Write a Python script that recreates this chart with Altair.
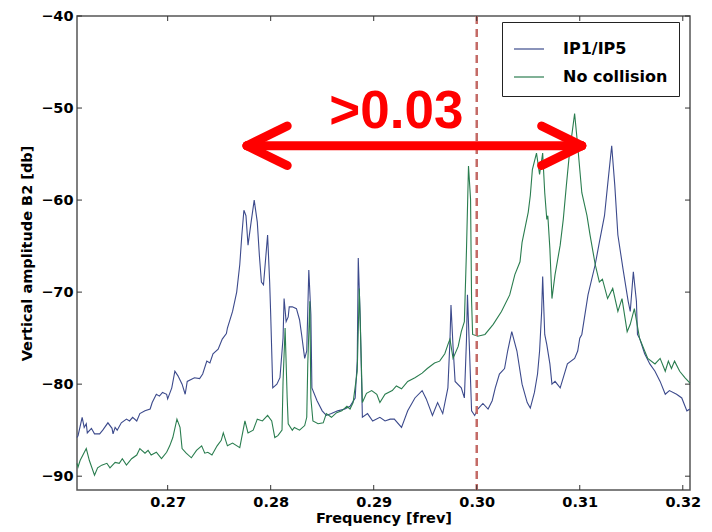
import altair as alt
import pandas as pd

# ---- data ----
ip_x = [0.2612,0.2613,0.2617,0.2619,0.2621,0.2622,0.2626,0.2629,0.2634,0.2637,
        0.2642,0.2646,0.2647,0.2649,0.2651,0.2655,0.2660,0.2663,0.2666,0.2670,
        0.2673,0.2678,0.2683,0.2685,0.2689,0.2692,0.2695,0.2699,0.2700,0.2704,
        0.2707,0.2710,0.2714,0.2717,0.2719,0.2726,0.2731,0.2734,0.2738,0.2741,
        0.2744,0.2749,0.2753,0.2757,0.2758,0.2763,0.2767,0.2770,0.2772,0.2774,
        0.2776,0.2778,0.2781,0.2784,0.2787,0.2789,0.2791,0.2793,0.2797,0.2799,
        0.2800,0.2802,0.2806,0.2809,0.2812,0.2813,0.2815,0.2817,0.2818,0.2821,
        0.2825,0.2828,0.2830,0.2833,0.2835,0.2837,0.2839,0.2840,0.2845,0.2850,
        0.2854,0.2859,0.2865,0.2872,0.2877,0.2882,0.2884,0.2885,0.2887,0.2889,
        0.2894,0.2899,0.2906,0.2911,0.2916,0.2920,0.2927,0.2933,0.2940,0.2947,
        0.2951,0.2957,0.2962,0.2967,0.2972,0.2974,0.2975,0.2977,0.2979,0.2985,
        0.2988,0.2990,0.2991,0.2993,0.2995,0.2998,0.3001,0.3006,0.3011,0.3015,
        0.3018,0.3022,0.3027,0.3030,0.3034,0.3039,0.3044,0.3049,0.3052,0.3056,
        0.3059,0.3061,0.3063,0.3064,0.3066,0.3068,0.3071,0.3073,0.3076,0.3081,
        0.3084,0.3088,0.3095,0.3098,0.3100,0.3102,0.3108,0.3115,0.3119,0.3124,
        0.3127,0.3131,0.3134,0.3137,0.3142,0.3147,0.3149,0.3152,0.3155,0.3156,
        0.3158,0.3163,0.3168,0.3173,0.3178,0.3183,0.3187,0.3194,0.3199,0.3204,
        0.3207]
ip_y = [-85.8,-85.6,-83.6,-84.7,-84.3,-85.3,-84.8,-85.4,-85.4,-85.0,
        -84.2,-84.8,-85.4,-84.7,-85.0,-84.2,-83.8,-84.0,-83.6,-84.0,
        -83.2,-82.9,-82.7,-82.0,-81.1,-81.3,-80.9,-81.1,-81.6,-80.4,
        -78.6,-79.1,-80.0,-81.1,-79.7,-79.3,-79.4,-78.9,-77.5,-77.7,
        -76.7,-76.2,-75.1,-74.5,-73.9,-72.1,-70.0,-67.0,-63.8,-61.1,
        -61.7,-64.9,-62.4,-60.0,-62.4,-66.0,-68.9,-69.2,-63.8,-68.9,
        -72.4,-80.4,-80.0,-79.3,-75.0,-70.7,-73.2,-72.7,-71.6,-71.6,
        -71.8,-73.0,-74.6,-77.2,-76.4,-67.6,-72.4,-80.4,-81.8,-82.9,
        -83.4,-83.2,-82.9,-82.7,-82.4,-81.5,-77.5,-66.3,-73.2,-83.6,
        -83.2,-84.0,-83.6,-84.0,-83.8,-83.8,-84.7,-82.9,-81.5,-80.7,
        -81.6,-83.4,-82.0,-83.2,-80.4,-75.3,-71.4,-75.9,-79.7,-80.4,
        -81.5,-75.3,-70.3,-76.4,-82.9,-83.4,-82.7,-82.1,-82.7,-81.8,
        -80.4,-78.9,-78.3,-76.4,-74.3,-76.4,-80.0,-82.0,-82.6,-80.9,
        -78.9,-76.4,-72.1,-68.3,-74.6,-75.7,-77.8,-80.0,-79.7,-80.4,
        -79.3,-77.8,-77.2,-76.4,-75.0,-74.6,-70.3,-67.0,-64.6,-61.7,
        -58.4,-54.1,-58.4,-63.8,-67.5,-71.0,-72.1,-67.8,-71.0,-74.6,
        -75.0,-76.7,-77.8,-78.6,-79.7,-81.1,-80.7,-81.1,-81.5,-82.9,
        -82.7]

nc_x = [0.2612,0.2613,0.2615,0.2621,0.2624,0.2629,0.2632,0.2636,0.2641,0.2644,
        0.2649,0.2653,0.2656,0.2660,0.2665,0.2670,0.2673,0.2678,0.2681,0.2684,
        0.2689,0.2694,0.2699,0.2702,0.2705,0.2709,0.2712,0.2714,0.2718,0.2723,
        0.2728,0.2733,0.2736,0.2739,0.2743,0.2748,0.2752,0.2754,0.2758,0.2763,
        0.2770,0.2775,0.2778,0.2783,0.2787,0.2792,0.2797,0.2801,0.2804,0.2807,
        0.2811,0.2812,0.2814,0.2816,0.2817,0.2821,0.2823,0.2828,0.2833,0.2835,
        0.2836,0.2838,0.2839,0.2841,0.2846,0.2851,0.2854,0.2859,0.2864,0.2869,
        0.2874,0.2877,0.2880,0.2884,0.2886,0.2888,0.2889,0.2893,0.2898,0.2903,
        0.2906,0.2911,0.2918,0.2922,0.2927,0.2933,0.2940,0.2947,0.2952,0.2959,
        0.2964,0.2969,0.2972,0.2974,0.2977,0.2982,0.2985,0.2988,0.2990,0.2992,
        0.2994,0.2995,0.2996,0.3001,0.3008,0.3016,0.3024,0.3032,0.3037,0.3042,
        0.3044,0.3050,0.3052,0.3054,0.3058,0.3061,0.3064,0.3066,0.3068,0.3069,
        0.3071,0.3073,0.3076,0.3081,0.3084,0.3087,0.3090,0.3095,0.3098,0.3102,
        0.3107,0.3110,0.3115,0.3119,0.3122,0.3127,0.3132,0.3137,0.3141,0.3146,
        0.3149,0.3153,0.3158,0.3163,0.3166,0.3173,0.3178,0.3183,0.3186,0.3189,
        0.3192,0.3197,0.3202,0.3207]
nc_y = [-88.6,-89.0,-88.3,-87.0,-88.3,-89.9,-89.1,-88.8,-88.6,-89.1,
        -88.5,-88.6,-88.1,-88.8,-88.1,-87.7,-87.0,-87.5,-87.2,-87.7,
        -87.4,-88.1,-87.4,-86.7,-85.8,-83.8,-84.7,-87.0,-87.5,-88.0,
        -87.2,-86.7,-87.5,-87.4,-87.7,-86.7,-86.1,-85.3,-86.7,-86.4,
        -86.9,-84.0,-85.3,-85.0,-83.8,-84.0,-83.4,-84.0,-85.8,-85.6,
        -85.0,-79.7,-73.9,-81.5,-84.3,-85.0,-84.7,-85.0,-84.5,-83.6,
        -77.8,-71.0,-81.5,-84.0,-84.3,-84.2,-83.2,-83.6,-83.1,-82.9,
        -82.4,-82.7,-82.0,-78.6,-69.6,-77.8,-82.0,-81.0,-80.7,-81.1,
        -82.0,-81.1,-80.7,-80.2,-80.5,-79.7,-79.3,-78.8,-78.3,-77.7,
        -77.5,-76.7,-75.7,-75.1,-77.2,-75.9,-74.3,-73.2,-65.6,-56.3,
        -59.9,-71.0,-74.6,-74.8,-74.6,-73.5,-72.1,-70.3,-68.1,-66.7,
        -64.6,-61.3,-59.5,-56.7,-54.9,-57.2,-54.9,-59.2,-62.1,-61.7,
        -65.3,-70.7,-68.1,-64.9,-62.1,-58.4,-54.9,-50.6,-54.1,-59.2,
        -61.7,-63.8,-67.0,-68.9,-68.6,-70.7,-69.6,-72.1,-70.7,-74.3,
        -73.5,-71.8,-75.0,-76.4,-77.2,-77.8,-77.2,-78.6,-77.5,-78.3,
        -77.5,-78.6,-79.3,-79.9]

series_names = ["IP1/IP5", "No collision"]
x_ticks = [0.27, 0.28, 0.29, 0.30, 0.31, 0.32]
y_ticks = [-90, -80, -70, -60, -50, -40]
x_domain = [0.2612, 0.3207]
y_domain = [-91.5, -40]

# annotation values
marker_x = [0.30]
arrow_left, arrow_right, arrow_y = 0.2777, 0.3102, -54.1
head_len, head_half = 0.0039, 2.15
label_text = ">0.03"
label_x, label_y = 0.2922, -52.2

# ---- build tables ----
df = pd.concat([
    pd.DataFrame({"x": ip_x, "y": ip_y, "s": series_names[0]}),
    pd.DataFrame({"x": nc_x, "y": nc_y, "s": series_names[1]}),
], ignore_index=True)

arrow_df = pd.DataFrame({
    "x":  [arrow_left, arrow_left, arrow_left, arrow_right, arrow_right],
    "y":  [arrow_y] * 5,
    "x2": [arrow_right, arrow_left + head_len, arrow_left + head_len,
           arrow_right - head_len, arrow_right - head_len],
    "y2": [arrow_y, arrow_y + head_half, arrow_y - head_half,
           arrow_y + head_half, arrow_y - head_half],
})

W, H = 613, 474
xs = alt.Scale(domain=x_domain, nice=False, zero=False)
ys = alt.Scale(domain=y_domain, nice=False, zero=False)
x_axis = alt.Axis(values=x_ticks, format=".2f", title="Frequency [frev]")
y_axis = alt.Axis(values=y_ticks, format="d", title="Vertical amplitude B2 [db]")
X = lambda: alt.X("x:Q", scale=xs, axis=x_axis)
Y = lambda: alt.Y("y:Q", scale=ys, axis=y_axis)

lines = alt.Chart(df).mark_line(strokeWidth=1.1).encode(
    x=X(), y=Y(),
    color=alt.Color("s:N", scale=alt.Scale(domain=series_names,
                                           range=["#3c4a8c", "#2a7d4f"]),
                    legend=alt.Legend(title=None, orient="none", legendX=425, legendY=6,
                                      strokeColor="#222", fillColor="white", padding=11,
                                      symbolType="stroke", symbolSize=900,
                                      symbolStrokeWidth=1.2, labelFontSize=16,
                                      labelFont="DejaVu Sans", labelFontWeight="bold",
                                      labelColor="black", rowPadding=4, labelOffset=18,
                                      cornerRadius=0)),
)

vline = alt.Chart(pd.DataFrame({"x": marker_x})).mark_rule(
    color="#c46a66", strokeWidth=2.5, strokeDash=[8, 5]
).encode(x=X())

xt = pd.DataFrame({"x": x_ticks})
yt = pd.DataFrame({"y": y_ticks})
tick_style = dict(color="#333", strokeWidth=1)
xb = alt.Chart(xt).mark_rule(**tick_style).encode(
    x=X(), y=alt.value(H), y2=alt.value(H - 5))
xtop = alt.Chart(xt).mark_rule(**tick_style).encode(
    x=X(), y=alt.value(0), y2=alt.value(5))
yl = alt.Chart(yt).mark_rule(**tick_style).encode(
    y=Y(), x=alt.value(0), x2=alt.value(5))
yr = alt.Chart(yt).mark_rule(**tick_style).encode(
    y=Y(), x=alt.value(W - 5), x2=alt.value(W))

arrow = alt.Chart(arrow_df).mark_rule(
    color="#ff0000", strokeWidth=9, strokeCap="round"
).encode(x=X(), y=Y(), x2="x2:Q", y2="y2:Q")

label = alt.Chart(pd.DataFrame({"x": [label_x], "y": [label_y], "t": [label_text]})).mark_text(
    font="Liberation Sans", fontSize=53, fontWeight="bold", color="#ff0000",
    align="center", baseline="alphabetic"
).encode(x=X(), y=Y(), text="t:N")

chart = alt.layer(lines, vline, xb, xtop, yl, yr, arrow, label).properties(
    width=W, height=H,
    padding={"left": 69, "top": 8, "right": 14, "bottom": 42},
    autosize=alt.AutoSizeParams(type="none"),
    background="white",
).configure_view(
    stroke="#555", strokeWidth=1.5
).configure_axis(
    grid=False, domain=False, ticks=False,
    labelFont="DejaVu Sans", labelFontSize=14.5, labelFontWeight="bold", labelColor="black",
    titleFont="DejaVu Sans", titleFontSize=14.5, titleFontWeight="bold", titleColor="black",
).configure_axisX(
    labelPadding=5, titlePadding=3
).configure_axisY(
    labelPadding=4, titlePadding=6
)

chart.save("out.html", embed_options={"renderer": "svg", "actions": False})
